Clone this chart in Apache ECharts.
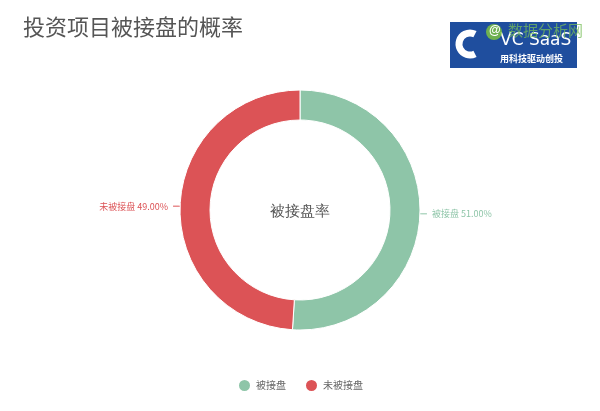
<!DOCTYPE html>
<html>
<head>
<meta charset="utf-8">
<script src="https://cdn.jsdelivr.net/npm/echarts@6/dist/echarts.min.js"></script>
<style>html,body{margin:0;padding:0;background:#fff;}#c{width:600px;height:411px;}</style>
</head>
<body>
<div id="c"></div>
<script>
const titleText = '投资项目被接盘的概率';
const centerText = '被接盘率';
const categories = ['被接盘', '未被接盘'];
const values = [51, 49];
const colors = ['#8ec5a8', '#dc5356'];

const chart = echarts.init(document.getElementById('c'));
const font = '"Noto Sans CJK SC", "Microsoft YaHei", sans-serif';
chart.setOption({
  animation: false,
  color: colors,
  title: {
    text: titleText,
    left: 18, top: 11,
    textStyle: { fontSize: 22, fontWeight: 'normal', color: '#555', fontFamily: font }
  },
  legend: {
    data: categories,
    bottom: 13,
    left: 'center',
    icon: 'circle',
    itemWidth: 13, itemHeight: 13, itemGap: 18,
    textStyle: { fontSize: 10, color: '#666', fontFamily: font }
  },
  graphic: [
    { type: 'text', left: 'center', top: 204, style: { text: centerText, fontSize: 15, fill: '#555', font: '15px ' + font } },
    {
      type: 'group', left: 450, top: 22,
      children: [
        { type: 'rect', shape: { x: 0, y: 0, width: 127, height: 46 }, style: { fill: '#1f4e9e' } },
        { type: 'arc', shape: { cx: 20, cy: 22, r: 11, startAngle: Math.PI * 0.35, endAngle: Math.PI * 1.65 }, style: { stroke: '#fff', lineWidth: 7, fill: null } },
        { type: 'text', style: { x: 50, y: 10, text: 'VC SaaS', fill: '#fff', font: '17px "DejaVu Sans", sans-serif' } },
        { type: 'text', style: { x: 50, y: 32, text: '用科技驱动创投', fill: '#fff', font: 'bold 9px ' + font } },
        { type: 'circle', shape: { cx: 44, cy: 10, r: 8 }, style: { fill: '#7dc242', opacity: 0.85 } },
        { type: 'text', style: { x: 39, y: 3, text: '@', fill: '#fff', font: 'bold 12px sans-serif' } },
        { type: 'text', style: { x: 58, y: 1, text: '数据分析网', fill: 'rgba(120,190,90,0.75)', font: '15px ' + font } }
      ]
    }
  ],
  series: [{
    type: 'pie',
    center: [300, 210],
    radius: [90, 120],
    startAngle: 90,
    clockwise: true,
    avoidLabelOverlap: false,
    itemStyle: { borderColor: '#fff', borderWidth: 1 },
    label: { show: true, position: 'outside', fontSize: 9, fontFamily: font, formatter: function (p) { return p.name + ' ' + p.value.toFixed(2) + '%'; } },
    labelLine: { show: true, length: 2, length2: 5, smooth: false },
    data: categories.map((n, i) => ({ name: n, value: values[i], label: { color: colors[i] }, labelLine: { lineStyle: { color: colors[i] } } }))
  }]
});
</script>
</body>
</html>
